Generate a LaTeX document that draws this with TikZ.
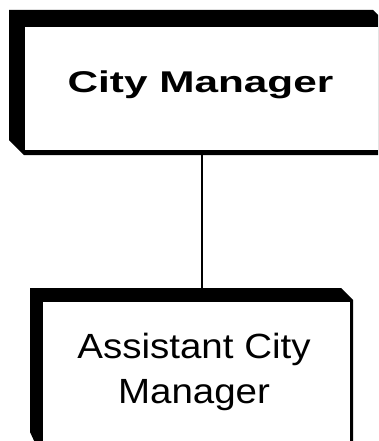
\documentclass[tikz,border=0pt]{standalone}
\usepackage{fontspec}
\setmainfont{Liberation Sans}
\newfontfamily\headfont[FakeStretch=1.41]{Liberation Sans Bold}
\newfontfamily\bodyfont[FakeStretch=1.1]{Liberation Sans}
\begin{document}
\begin{tikzpicture}[x=1pt,y=-1pt,
  face/.style={fill=white,draw=none,inner sep=0pt,outer sep=0pt},
  shade3d/.style={fill=black},
  link/.style={draw=black,line width=1.8pt},
  headtext/.style={font=\headfont\fontsize{30}{34}\selectfont,inner sep=0pt,anchor=base},
  bodytext/.style={font=\bodyfont\fontsize{35}{45}\selectfont,inner sep=0pt,anchor=base,align=center}]
  \useasboundingbox (0,0) rectangle (378,441);
  \clip (0,0) rectangle (378,441);

  % upper box: extruded black back, white front face
  \fill[shade3d] (9,10) -- (373,10) -- (392,29) -- (392,155) -- (24,155) -- (9,140) -- cycle;
  \node[face,minimum width=363pt,minimum height=123pt] (cm) at (206.5,88.5) {};
  \node[headtext] (cmtext) at (200.5,93) {City Manager};

  % lower box
  \fill[shade3d] (30,288) -- (341,288) -- (353,300) -- (353,460) -- (43,460) -- (30,432) -- cycle;
  \node[face,minimum width=307pt,minimum height=143pt] (acm) at (196.5,373.5) {};
  \node[bodytext] (acmtext) at (194,403) {Assistant City\\Manager};

  % reporting line
  \coordinate (tap) at (202,0);
  \draw[link] (cm.south -| tap) -- (acm.north -| tap);
\end{tikzpicture}
\end{document}
